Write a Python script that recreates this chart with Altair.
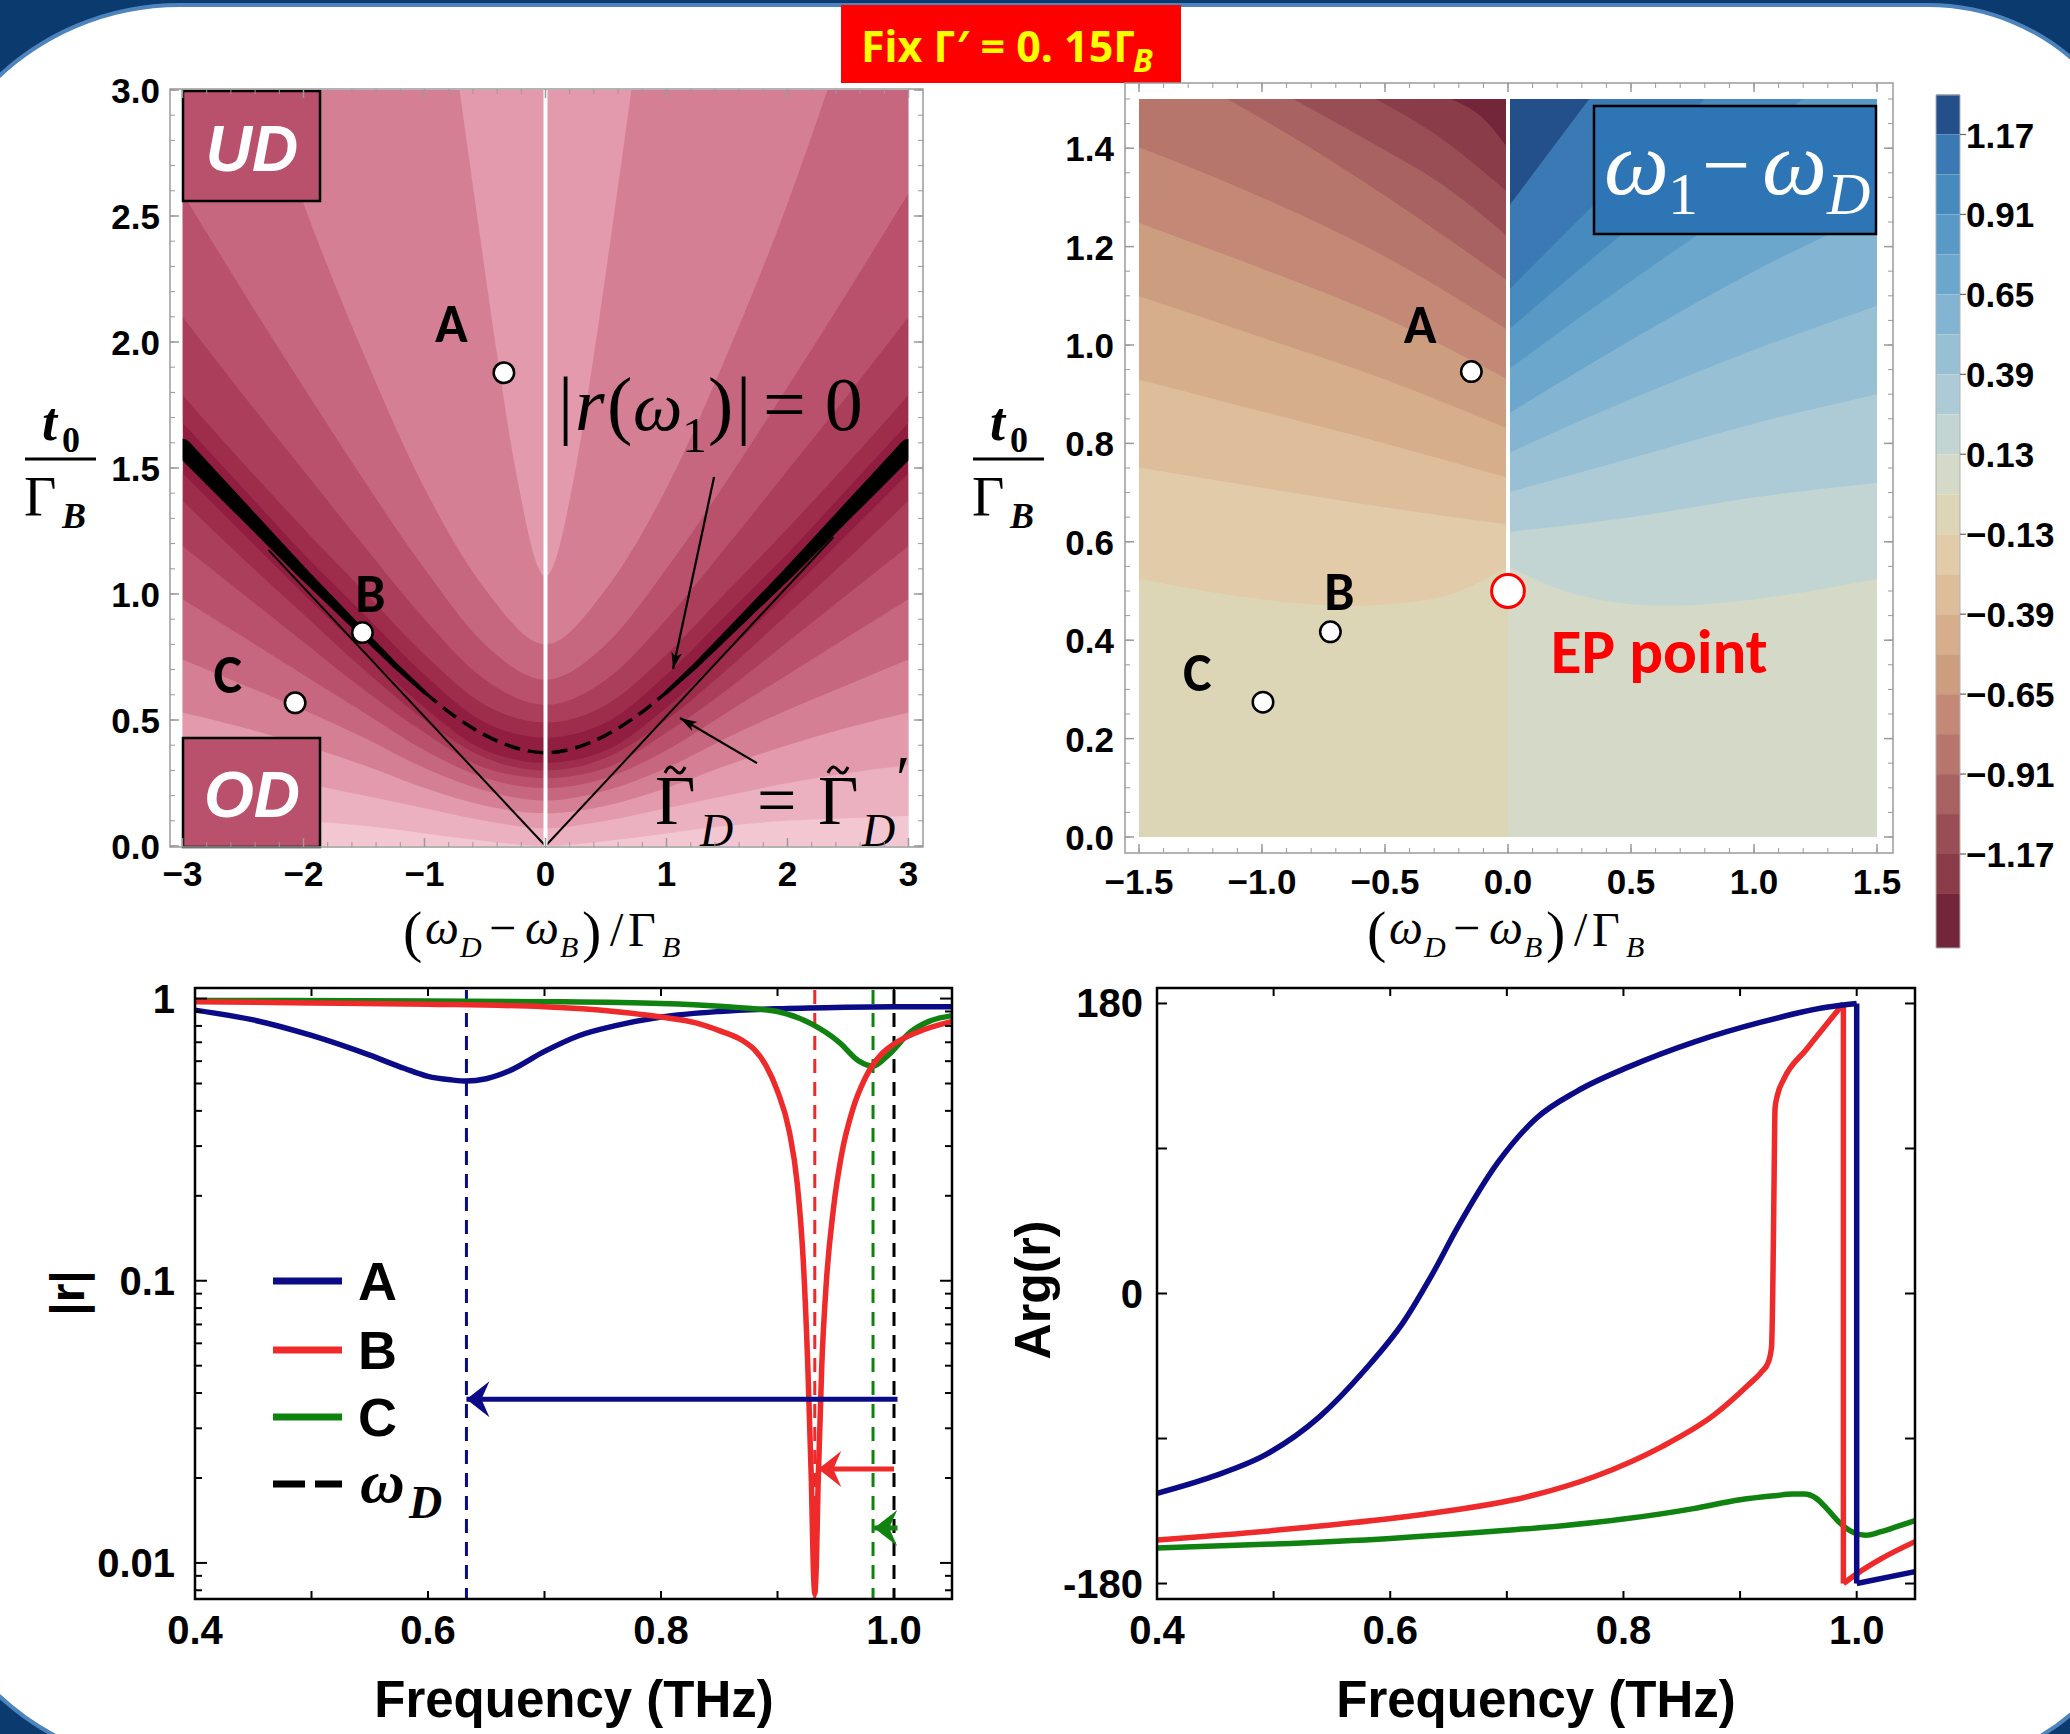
import math
import altair as alt
import pandas as pd

W, H = 2070, 1734

# ====================== DATA ======================
POINT_NAMES = ["A", "B", "C"]

# ---- top-left map |r(w1)| : x = (wD - wB)/GB , y = t0/GB ----
TL_XS = [-3, -2.5, -2, -1.5, -1, -0.5, 0, 0.5, 1, 1.5, 2, 2.5, 3]
TL_UPPER = [  # contour boundaries above the |r|=0 line (levels 1..4)
    [1.68, 1.42, 1.16, 0.92, 0.68, 0.49, 0.43, 0.49, 0.68, 0.92, 1.16, 1.42, 1.68],
    [1.79, 1.52, 1.26, 1.01, 0.76, 0.56, 0.49, 0.56, 0.76, 1.01, 1.26, 1.52, 1.79],
    [2.10, 1.79, 1.49, 1.19, 0.90, 0.66, 0.56, 0.66, 0.90, 1.19, 1.49, 1.79, 2.10],
    [2.59, 2.20, 1.82, 1.45, 1.10, 0.80, 0.66, 0.80, 1.10, 1.45, 1.82, 2.20, 2.59],
]
TL_U5_X = [-2.33, -2, -1.5, -1, -0.5, 0, 0.5, 1, 1.5, 2, 2.33]
TL_U5_Y = [3.0, 2.55, 1.95, 1.42, 1.02, 0.80, 1.02, 1.42, 1.95, 2.55, 3.0]
TL_U6_X = [-0.71, -0.55, -0.4, -0.25, 0, 0.25, 0.4, 0.55, 0.71]
TL_U6_Y = [3.0, 2.45, 1.95, 1.5, 1.07, 1.5, 1.95, 2.45, 3.0]
TL_LOWER = [  # contour boundaries below the |r|=0 line (levels 1..8)
    [1.48, 1.24, 1.00, 0.77, 0.55, 0.38, 0.33, 0.38, 0.55, 0.77, 1.00, 1.24, 1.48],
    [1.37, 1.14, 0.92, 0.70, 0.50, 0.35, 0.30, 0.35, 0.50, 0.70, 0.92, 1.14, 1.37],
    [1.19, 1.00, 0.81, 0.62, 0.45, 0.31, 0.27, 0.31, 0.45, 0.62, 0.81, 1.00, 1.19],
    [0.98, 0.83, 0.68, 0.53, 0.38, 0.27, 0.23, 0.27, 0.38, 0.53, 0.68, 0.83, 0.98],
    [0.74, 0.64, 0.54, 0.43, 0.31, 0.22, 0.18, 0.22, 0.31, 0.43, 0.54, 0.64, 0.74],
    [0.53, 0.47, 0.40, 0.32, 0.23, 0.16, 0.13, 0.16, 0.23, 0.32, 0.40, 0.47, 0.53],
    [0.32, 0.29, 0.25, 0.20, 0.15, 0.10, 0.07, 0.10, 0.15, 0.20, 0.25, 0.29, 0.32],
    [0.12, 0.11, 0.10, 0.08, 0.05, 0.02, 0.00, 0.02, 0.05, 0.08, 0.10, 0.11, 0.12],
]
TL_ZERO_X = [-3, -2.75, -2.5, -2.25, -2, -1.75, -1.5, -1.25, -1, -0.75, -0.5, -0.25, 0,
             0.25, 0.5, 0.75, 1, 1.25, 1.5, 1.75, 2, 2.25, 2.5, 2.75, 3]
TL_ZERO_Y = [1.58, 1.455, 1.33, 1.205, 1.08, 0.96, 0.84, 0.72, 0.61, 0.515, 0.44, 0.39, 0.37,
             0.39, 0.44, 0.515, 0.61, 0.72, 0.84, 0.96, 1.08, 1.205, 1.33, 1.455, 1.58]
TL_GAMMA_X = [-2.29, 0, 2.38]
TL_GAMMA_Y = [1.175, 0, 1.226]
TL_PT_X = [-0.344, -1.513, -2.069]
TL_PT_Y = [1.878, 0.847, 0.568]
TL_TICK_X = [-3, -2, -1, 0, 1, 2, 3]
TL_TICK_X_LAB = ["−3", "−2", "−1", "0", "1", "2", "3"]
TL_TICK_Y = [0, 0.5, 1, 1.5, 2, 2.5, 3]
TL_TICK_Y_LAB = ["0.0", "0.5", "1.0", "1.5", "2.0", "2.5", "3.0"]

# ---- top-right map w1 - wD ----
TR_LEFT_X = [[-1.5, -1.1, -0.65, -0.3, 0], [-1.5, -1, -0.5, 0], [-1.5, -1, -0.5, 0],
             [-1.5, -1, -0.5, 0], [-1.5, -1, -0.5, 0], [-1.5, -1, -0.5, 0],
             [-1.141, -0.8, -0.4, 0], [-0.875, -0.55, -0.25, 0], [-0.538, -0.3, 0],
             [-0.231, -0.1, 0]]
TR_LEFT_Y = [[0.525, 0.49, 0.47, 0.485, 0.55], [0.751, 0.71, 0.67, 0.635], [0.93, 0.865, 0.80, 0.73],
             [1.099, 1.015, 0.93, 0.83], [1.248, 1.155, 1.055, 0.93], [1.402, 1.30, 1.18, 1.03],
             [1.5, 1.40, 1.27, 1.13], [1.5, 1.41, 1.32, 1.22], [1.5, 1.43, 1.31],
             [1.5, 1.46, 1.40]]
TR_RIGHT_X = [[0, 0.3, 0.65, 1.1, 1.5], [0, 0.5, 1, 1.5], [0, 0.5, 1, 1.5], [0, 0.5, 1, 1.5],
              [0, 0.5, 1, 1.5], [0, 0.5, 1, 1.5], [0, 0.5, 1, 1.2], [0, 0.4, 0.8], [0, 0.15, 0.33]]
TR_RIGHT_Y = [[0.55, 0.49, 0.47, 0.49, 0.525], [0.62, 0.65, 0.69, 0.72], [0.70, 0.77, 0.84, 0.90],
              [0.78, 0.89, 0.99, 1.08], [0.86, 1.01, 1.15, 1.27], [0.95, 1.13, 1.30, 1.45],
              [1.03, 1.24, 1.43, 1.5], [1.11, 1.31, 1.5], [1.28, 1.38, 1.5]]
TR_PT_X = [-0.149, -0.722, -0.996]
TR_PT_Y = [0.946, 0.417, 0.274]
EP_X = [0.0]
EP_Y = [0.5]
TR_TICK_X = [-1.5, -1, -0.5, 0, 0.5, 1, 1.5]
TR_TICK_X_LAB = ["−1.5", "−1.0", "−0.5", "0.0", "0.5", "1.0", "1.5"]
TR_TICK_Y = [0, 0.2, 0.4, 0.6, 0.8, 1.0, 1.2, 1.4]
TR_TICK_Y_LAB = ["0.0", "0.2", "0.4", "0.6", "0.8", "1.0", "1.2", "1.4"]
CB_EDGES = [1.30, 1.17, 1.04, 0.91, 0.78, 0.65, 0.52, 0.39, 0.26, 0.13, 0.0, -0.13, -0.26,
            -0.39, -0.52, -0.65, -0.78, -0.91, -1.04, -1.17, -1.30, -1.476]
CB_TICKS = [1.17, 0.91, 0.65, 0.39, 0.13, -0.13, -0.39, -0.65, -0.91, -1.17]
CB_LABELS = ["1.17", "0.91", "0.65", "0.39", "0.13", "−0.13", "−0.39", "−0.65", "−0.91", "−1.17"]

# ---- bottom-left |r| (log) ----
FREQ_A = [0.40, 0.45, 0.50, 0.55, 0.58, 0.60, 0.62, 0.633, 0.65, 0.67, 0.70, 0.73, 0.76, 0.80,
          0.85, 0.90, 0.95, 1.00, 1.05]
ABS_A = [0.91, 0.84, 0.74, 0.63, 0.565, 0.53, 0.515, 0.51, 0.52, 0.555, 0.65, 0.74, 0.80, 0.86,
         0.90, 0.92, 0.93, 0.935, 0.935]
FREQ_B = [0.40, 0.50, 0.60, 0.70, 0.76, 0.80, 0.83, 0.85, 0.87, 0.88, 0.89, 0.90, 0.91, 0.917,
          0.922, 0.926, 0.929, 0.931, 0.932, 0.933, 0.935, 0.938, 0.942, 0.948, 0.955, 0.965,
          0.975, 0.99, 1.00, 1.02, 1.05]
ABS_B = [0.975, 0.965, 0.955, 0.935, 0.90, 0.86, 0.82, 0.77, 0.71, 0.66, 0.58, 0.47, 0.34, 0.22,
         0.12, 0.05, 0.02, 0.009, 0.0078, 0.009, 0.02, 0.05, 0.10, 0.18, 0.28, 0.41,
         0.52, 0.64, 0.69, 0.76, 0.83]
FREQ_C = [0.40, 0.60, 0.70, 0.80, 0.85, 0.88, 0.90, 0.93, 0.953, 0.97, 0.982, 0.995, 1.014,
          1.03, 1.05]
ABS_C = [0.985, 0.98, 0.975, 0.96, 0.94, 0.92, 0.90, 0.81, 0.70, 0.60, 0.576, 0.63, 0.76,
         0.83, 0.87]
WD_LINES = [0.633, 0.932, 0.982, 1.0]
ARROW_TAIL = [1.003, 1.0, 1.003]
ARROW_TIP = [0.633, 0.935, 0.983]
ARROW_LEVEL = [0.038, 0.0215, 0.0133]
BL_TICK_Y = [1, 0.1, 0.01]
BL_TICK_Y_LAB = ["1", "0.1", "0.01"]
F_TICKS = [0.4, 0.6, 0.8, 1.0]
F_TICK_LAB = ["0.4", "0.6", "0.8", "1.0"]

# ---- bottom-right Arg(r) ----
PFREQ_A1 = [0.40, 0.448, 0.494, 0.539, 0.578, 0.612, 0.635, 0.658, 0.692, 0.725, 0.760, 0.805,
            0.861, 0.918, 0.974, 1.0]
ARG_A1 = [-124, -113.5, -99.7, -76.7, -47.6, -17, 10.6, 41.3, 81, 108.6, 125.5, 140.8, 156.2,
          168.4, 177.6, 180]
PFREQ_A2 = [1.0, 1.05]
ARG_A2 = [-180, -172.6]
PFREQ_B1 = [0.40, 0.522, 0.635, 0.720, 0.776, 0.833, 0.878, 0.907, 0.918, 0.924, 0.927, 0.928,
            0.929, 0.930, 0.932, 0.9375, 0.957, 0.974, 0.9886]
ARG_B1 = [-153, -145.6, -136.4, -125.7, -113.4, -95, -75.2, -56.8, -49, -43, -33, 0, 60, 115,
          123, 133, 151.6, 167, 180]
PFREQ_B2 = [0.9886, 1.0, 1.02, 1.05]
ARG_B2 = [-180, -174, -165, -154]
PFREQ_C = [0.40, 0.50, 0.60, 0.70, 0.75, 0.80, 0.86, 0.90, 0.93, 0.945, 0.955, 0.965, 0.975,
           0.985, 0.995, 1.008, 1.02, 1.035, 1.05]
ARG_C = [-158, -155.5, -152, -147, -144, -140, -133.5, -128, -125.5, -124.5, -124.5, -127, -134,
         -142, -147.5, -150, -148, -144.5, -141]
BR_TICK_Y = [180, 0, -180]
BR_TICK_Y_LAB = ["180", "0", "-180"]

# ====================== STYLE / LAYOUT ======================
SANS = "Liberation Sans, Arial, Helvetica, sans-serif"
SERIF = "Liberation Serif, Times New Roman, serif"
CALI = "Carlito, Lato, Open Sans, sans-serif"
NOTO = "Noto Sans, DejaVu Sans, sans-serif"
NAVY, RED, GREEN = "#0b0b88", "#ee2a2a", "#108210"
TL_COLORS = ["#911d40", "#9e2c4b", "#ab3e5b", "#b9506c", "#c7667f", "#d57f95", "#e39aad",
             "#ebb1c0", "#f2c7d2"]
TR_RED = ["#dcd5b6", "#e2cba8", "#ddbd9a", "#d6ae8c", "#cd9d80", "#c38976", "#b6766c",
          "#a86261", "#994e55", "#8a3c48", "#73263a"]
TR_BLUE = ["#d4d9c8", "#c2d5d2", "#adcbd6", "#98c0d5", "#83b4d1", "#6ba6cc", "#5899c5",
           "#478abe", "#3a79b3", "#234f8b"]
FRAME_GREY = "#9a9a9a"
TILDE = "M-1,0.3C-0.65,-0.45,-0.35,-0.45,0,0C0.35,0.45,0.65,0.45,1,-0.3"

layers = []
ONE = pd.DataFrame({"k": [0]})


def add(c):
    layers.append(c)


def lin(dom, rng):
    return alt.Scale(domain=dom, range=rng, nice=False, zero=False)


def ex(s, f="x"):
    return alt.X(f"{f}:Q", scale=s, axis=None)


def ey(s, f="y"):
    return alt.Y(f"{f}:Q", scale=s, axis=None)


def prect(x1, x2, y1, y2, **mk):
    add(alt.Chart(ONE).mark_rect(**mk).encode(
        x=alt.value(x1), x2=alt.value(x2), y=alt.value(y1), y2=alt.value(y2)))


def pline(x1, y1, x2, y2, **mk):
    add(alt.Chart(ONE).mark_rule(**mk).encode(
        x=alt.value(x1), x2=alt.value(x2), y=alt.value(y1), y2=alt.value(y2)))


def psymbol(x, y, shape, size, **mk):
    add(alt.Chart(ONE).mark_point(shape=shape, size=size, **mk).encode(
        x=alt.value(x), y=alt.value(y)))


def ptext(x, y, s, size, font=SANS, color="black", weight="normal", style="normal",
          align="left", baseline="alphabetic", angle=None):
    kw = dict(text=s, fontSize=size, font=font, color=color, fontWeight=weight,
              fontStyle=style, align=align, baseline=baseline)
    if angle is not None:
        kw["angle"] = angle
    add(alt.Chart(ONE).mark_text(**kw).encode(x=alt.value(x), y=alt.value(y)))


def dtext(sx, sy, xs, ys, texts, size, font=CALI, color="black", weight="bold",
          align="center", dy=0):
    df = pd.DataFrame({"x": xs, "y": ys, "t": texts})
    add(alt.Chart(df).mark_text(fontSize=size, font=font, color=color, fontWeight=weight,
                                align=align, baseline="alphabetic", dy=dy).encode(
        x=ex(sx), y=ey(sy), text="t:N"))


def area(sx, sy, xs, ys, base, color):
    df = pd.DataFrame({"x": xs, "y": ys, "b": [base] * len(xs)})
    add(alt.Chart(df).mark_area(color=color, interpolate="monotone").encode(
        x=ex(sx), y=ey(sy), y2="b:Q"))


def drect(sx, sy, x1, x2, y1, y2, **mk):
    df = pd.DataFrame({"x": [x1], "x2": [x2], "y": [y1], "y2": [y2]})
    add(alt.Chart(df).mark_rect(**mk).encode(x=ex(sx), x2="x2:Q", y=ey(sy), y2="y2:Q"))


def curve(sx, sy, xs, ys, color, width, interp="monotone", dash=None):
    df = pd.DataFrame({"x": xs, "y": ys, "i": list(range(len(xs)))})
    kw = dict(color=color, strokeWidth=width, interpolate=interp)
    if dash:
        kw["strokeDash"] = dash
    add(alt.Chart(df).mark_line(**kw).encode(x=ex(sx), y=ey(sy), order="i:Q"))


def dots(sx, sy, xs, ys, size, stroke, sw=2.5):
    df = pd.DataFrame({"x": xs, "y": ys})
    add(alt.Chart(df).mark_circle(color="white", opacity=1, stroke=stroke, strokeWidth=sw,
                                  size=size).encode(x=ex(sx), y=ey(sy)))


def hticks(sx, vals, y0, length, color, sw=1.5):
    df = pd.DataFrame({"v": vals})
    add(alt.Chart(df).mark_rule(color=color, strokeWidth=sw).encode(
        x=ex(sx, "v"), y=alt.value(y0), y2=alt.value(y0 + length)))


def vticks(sy, vals, x0, length, color, sw=1.5):
    df = pd.DataFrame({"v": vals})
    add(alt.Chart(df).mark_rule(color=color, strokeWidth=sw).encode(
        y=ey(sy, "v"), x=alt.value(x0), x2=alt.value(x0 + length)))


def xlabels(sx, vals, texts, y, size, font=SANS):
    df = pd.DataFrame({"v": vals, "t": texts})
    add(alt.Chart(df).mark_text(fontSize=size, font=font, fontWeight="bold", align="center",
                                baseline="alphabetic", color="black").encode(
        x=ex(sx, "v"), y=alt.value(y), text="t:N"))


def ylabels(sy, vals, texts, x, size, align="right", font=SANS):
    df = pd.DataFrame({"v": vals, "t": texts})
    add(alt.Chart(df).mark_text(fontSize=size, font=font, fontWeight="bold", align=align,
                                baseline="alphabetic", dy=round(0.36 * size),
                                color="black").encode(
        y=ey(sy, "v"), x=alt.value(x), text="t:N"))


HEAD_BIG = "M0,0L-1.8,2.3L0,1.5L1.8,2.3Z"
HEAD_SMALL = "M0,0L-0.8,2.6L0,2.0L0.8,2.6Z"


def arrow(sx, sy, kx, ky, tail, tip, color, width, path, size):
    df = pd.DataFrame({"x": [tail[0]], "y": [tail[1]], "x2": [tip[0]], "y2": [tip[1]]})
    add(alt.Chart(df).mark_rule(color=color, strokeWidth=width).encode(
        x=ex(sx), y=ey(sy), x2="x2:Q", y2="y2:Q"))
    dxp = (tip[0] - tail[0]) * kx
    dyp = -(tip[1] - tail[1]) * ky
    ang = math.degrees(math.atan2(dxp, -dyp)) % 360
    hd = pd.DataFrame({"x": [tip[0]], "y": [tip[1]]})
    add(alt.Chart(hd).mark_point(shape=path, filled=True, color=color, size=size, angle=ang,
                                 opacity=1, strokeWidth=0).encode(x=ex(sx), y=ey(sy)))


# scales (pixel ranges of each panel on the 2070x1734 page)
TL_SX = lin([-3, 3], [182.5, 908.5])
TL_SY = lin([0, 3], [846, 90])
TR_SX = lin([-1.5, 1.5], [1139, 1877])
TR_SY = lin([0, 1.5], [837, 99])
CB_SY = lin([-1.17, 1.17], [854, 134.5])
BL_SX = lin([0.4, 1.05], [195, 952.25])
BL_SY = alt.Scale(type="log", domain=[0.00745, 1.09], range=[1599, 988], nice=False)
BR_SX = lin([0.4, 1.05], [1157, 1915])
BR_SY = lin([-189.6, 189.6], [1599, 988])

# ---------------- page background ----------------
prect(0, W, 0, H, color="#0b3b6e")
prect(-86, 2148, 5, 1767, color="white", stroke="#4d84bd", strokeWidth=4,
      cornerRadiusTopLeft=266, cornerRadiusTopRight=220,
      cornerRadiusBottomLeft=266, cornerRadiusBottomRight=220)

# title box
prect(841, 1181, 5, 83, color="#ff0000")
ptext(861, 62, "Fix Γ′ = 0. 15Γ", 43, font=NOTO, color="#ffff00", weight="bold")
ptext(1133, 72, "B", 32, font=NOTO, color="#ffff00", weight="bold", style="italic")

# ---------------- top-left panel ----------------
drect(TL_SX, TL_SY, TL_XS[0], TL_XS[-1], 0, 3, color=TL_COLORS[0])
for k, ys in enumerate(TL_UPPER):
    area(TL_SX, TL_SY, TL_XS, ys, 3, TL_COLORS[k + 1])
area(TL_SX, TL_SY, TL_U5_X, TL_U5_Y, 3, TL_COLORS[5])
area(TL_SX, TL_SY, TL_U6_X, TL_U6_Y, 3, TL_COLORS[6])
for k, ys in enumerate(TL_LOWER):
    area(TL_SX, TL_SY, TL_XS, ys, 0, TL_COLORS[k + 1])

curve(TL_SX, TL_SY, TL_GAMMA_X, TL_GAMMA_Y, "black", 2, interp="linear")

zdf = pd.DataFrame({"x": TL_ZERO_X, "y": TL_ZERO_Y})
zdf["w"] = 4 + 7.0 * (zdf["x"].abs() - 1)
zdf["side"] = ["L" if v < 0 else "R" for v in zdf["x"]]
outer = zdf[zdf["x"].abs() >= 1]
add(alt.Chart(outer).mark_trail(color="black").encode(
    x=ex(TL_SX), y=ey(TL_SY), size=alt.Size("w:Q", scale=None, legend=None), detail="side:N"))
inner = zdf[zdf["x"].abs() <= 1]
curve(TL_SX, TL_SY, list(inner["x"]), list(inner["y"]), "black", 3.5, dash=[16, 8])

curve(TL_SX, TL_SY, [0, 0], [0, 3], "white", 4, interp="linear")
# white margins between the map and its frame (hide the trail end caps)
prect(170, 182.5, 89, 847, color="white")
prect(908.5, 923, 89, 847, color="white")

dots(TL_SX, TL_SY, TL_PT_X, TL_PT_Y, 420, "black")
dtext(TL_SX, TL_SY, [-0.778, -1.448, -2.625], [2.075, 1.003, 0.681], POINT_NAMES, 54, dy=19)

prect(183, 320, 91, 201, color=TL_COLORS[3], stroke="black", strokeWidth=2.5)
ptext(252, 171, "UD", 64, weight="bold", style="italic", color="white", align="center")
prect(183, 320, 738, 847, color=TL_COLORS[3], stroke="black", strokeWidth=2.5)
ptext(252, 817, "OD", 64, weight="bold", style="italic", color="white", align="center")

# |r(w1)| = 0 label
ptext(558, 430, "|", 76, font=SERIF)
ptext(575, 430, "r", 76, font=SERIF, style="italic")
ptext(607, 430, "(", 76, font=SERIF)
ptext(633, 430, "ω", 70, font=SERIF, style="italic")
ptext(682, 452, "1", 50, font=SERIF)
ptext(708, 430, ")", 76, font=SERIF)
ptext(736, 430, "|", 76, font=SERIF)
ptext(763, 430, "= 0", 76, font=SERIF)
# Gamma_D tilde label (tildes drawn as small wave symbols)
ptext(655, 824, "Γ", 70, font=SERIF)
psymbol(675, 770, TILDE, 400, filled=False, color="black", strokeWidth=3, opacity=1)
ptext(700, 846, "D", 46, font=SERIF, style="italic")
ptext(757, 824, "=", 70, font=SERIF)
ptext(818, 824, "Γ", 70, font=SERIF)
psymbol(838, 770, TILDE, 400, filled=False, color="black", strokeWidth=3, opacity=1)
ptext(862, 846, "D", 46, font=SERIF, style="italic")
ptext(896, 800, "′", 64, font=SERIF)

arrow(TL_SX, TL_SY, 121, 252, (1.393, 1.464), (1.054, 0.702), "black", 2.2, HEAD_SMALL, 169)
arrow(TL_SX, TL_SY, 121, 252, (1.748, 0.329), (1.112, 0.508), "black", 2.2, HEAD_SMALL, 169)

prect(170, 923, 89, 847, fillOpacity=0, stroke=FRAME_GREY, strokeWidth=1.5)
tl_minor_x = [round(-3 + 0.2 * i, 2) for i in range(31)]
tl_minor_y = [round(0.1 * i, 2) for i in range(31)]
hticks(TL_SX, TL_TICK_X, 847, -9, FRAME_GREY)
hticks(TL_SX, TL_TICK_X, 89, 9, FRAME_GREY)
hticks(TL_SX, tl_minor_x, 847, -5, FRAME_GREY, 1)
hticks(TL_SX, tl_minor_x, 89, 5, FRAME_GREY, 1)
vticks(TL_SY, TL_TICK_Y, 170, 9, FRAME_GREY)
vticks(TL_SY, TL_TICK_Y, 923, -9, FRAME_GREY)
vticks(TL_SY, tl_minor_y, 170, 5, FRAME_GREY, 1)
vticks(TL_SY, tl_minor_y, 923, -5, FRAME_GREY, 1)
xlabels(TL_SX, TL_TICK_X, TL_TICK_X_LAB, 886, 35)
ylabels(TL_SY, TL_TICK_Y, TL_TICK_Y_LAB, 160, 35)


def frac_title(dx):
    ptext(42 + dx, 440, "t", 54, font=SERIF, weight="bold", style="italic")
    ptext(62 + dx, 452, "0", 36, font=SERIF, weight="bold")
    pline(25 + dx, 459, 96 + dx, 459, color="black", strokeWidth=3)
    ptext(24 + dx, 516, "Γ", 56, font=SERIF)
    ptext(62 + dx, 528, "B", 36, font=SERIF, weight="bold", style="italic")


def x_title(dx):
    ptext(403 + dx, 951, "(", 58, font=SERIF)
    ptext(425 + dx, 944, "ω", 48, font=SERIF, style="italic")
    ptext(460 + dx, 957, "D", 30, font=SERIF, style="italic")
    ptext(489 + dx, 944, "−", 48, font=SERIF)
    ptext(525 + dx, 944, "ω", 48, font=SERIF, style="italic")
    ptext(560 + dx, 957, "B", 30, font=SERIF, style="italic")
    ptext(582 + dx, 951, ")", 58, font=SERIF)
    ptext(610 + dx, 946, "/", 48, font=SERIF)
    ptext(628 + dx, 946, "Γ", 48, font=SERIF)
    ptext(662 + dx, 957, "B", 30, font=SERIF, style="italic")


frac_title(0)
x_title(0)

# ---------------- top-right panel ----------------
drect(TR_SX, TR_SY, -1.5, 0, 0, 1.5, color=TR_RED[0])
drect(TR_SX, TR_SY, 0, 1.5, 0, 1.5, color=TR_BLUE[0])
for k in range(len(TR_LEFT_X)):
    area(TR_SX, TR_SY, TR_LEFT_X[k], TR_LEFT_Y[k], 1.5, TR_RED[k + 1])
for k in range(len(TR_RIGHT_X)):
    area(TR_SX, TR_SY, TR_RIGHT_X[k], TR_RIGHT_Y[k], 1.5, TR_BLUE[k + 1])
curve(TR_SX, TR_SY, [EP_X[0], EP_X[0]], [EP_Y[0], 1.5], "white", 4, interp="linear")

prect(1594, 1876, 106, 234, color="#2e75b6", stroke="black", strokeWidth=2.5)
ptext(1604, 194, "ω", 92, font=SERIF, style="italic", color="white")
ptext(1668, 214, "1", 60, font=SERIF, color="white")
ptext(1702, 194, "−", 86, font=SERIF, color="white")
ptext(1762, 194, "ω", 92, font=SERIF, style="italic", color="white")
ptext(1827, 214, "D", 60, font=SERIF, style="italic", color="white")

dots(TR_SX, TR_SY, TR_PT_X, TR_PT_Y, 420, "black")
dots(TR_SX, TR_SY, EP_X, EP_Y, 1075, "#ff0000", 3)
dtext(TR_SX, TR_SY, [-0.357, -0.685, -1.263], [1.043, 0.50, 0.336], POINT_NAMES, 54, dy=19)
dtext(TR_SX, TR_SY, [0.174], [0.334], ["EP point"], 63, color="#ff0000", align="left")

prect(1125, 1893, 83, 853, fillOpacity=0, stroke=FRAME_GREY, strokeWidth=1.5)
tr_minor_x = [round(-1.5 + 0.1 * i, 2) for i in range(31)]
tr_minor_y = [round(0.05 * i, 2) for i in range(31)]
hticks(TR_SX, TR_TICK_X, 853, -9, FRAME_GREY)
hticks(TR_SX, TR_TICK_X, 83, 9, FRAME_GREY)
hticks(TR_SX, tr_minor_x, 853, -5, FRAME_GREY, 1)
hticks(TR_SX, tr_minor_x, 83, 5, FRAME_GREY, 1)
vticks(TR_SY, TR_TICK_Y, 1125, 9, FRAME_GREY)
vticks(TR_SY, TR_TICK_Y, 1893, -9, FRAME_GREY)
vticks(TR_SY, tr_minor_y, 1125, 5, FRAME_GREY, 1)
vticks(TR_SY, tr_minor_y, 1893, -5, FRAME_GREY, 1)
xlabels(TR_SX, TR_TICK_X, TR_TICK_X_LAB, 894, 35)
ylabels(TR_SY, TR_TICK_Y, TR_TICK_Y_LAB, 1114, 35)
frac_title(948)
x_title(964)

# colour bar
cb_colors = TR_BLUE[::-1] + TR_RED
cbd = pd.DataFrame({"hi": CB_EDGES[:-1], "lo": CB_EDGES[1:], "c": cb_colors})
add(alt.Chart(cbd).mark_rect().encode(
    y=ey(CB_SY, "hi"), y2="lo:Q", x=alt.value(1936), x2=alt.value(1960),
    color=alt.Color("c:N", scale=None, legend=None)))
prect(1936, 1960, 95, 948, fillOpacity=0, stroke="#b0b0b0", strokeWidth=1)
vticks(CB_SY, CB_TICKS, 1960, 6, "#666666", 1.2)
ylabels(CB_SY, CB_TICKS, CB_LABELS, 1966, 35, align="left")

# ---------------- bottom-left panel: |r| ----------------
wdd = pd.DataFrame({"x": WD_LINES, "c": [NAVY, RED, GREEN, "black"]})
add(alt.Chart(wdd).mark_rule(strokeWidth=3, strokeDash=[14, 9]).encode(
    x=ex(BL_SX), y=alt.value(990), y2=alt.value(1598),
    color=alt.Color("c:N", scale=None, legend=None)))
curve(BL_SX, BL_SY, FREQ_A, ABS_A, NAVY, 5.5)
curve(BL_SX, BL_SY, FREQ_C, ABS_C, GREEN, 5.5)
curve(BL_SX, BL_SY, FREQ_B, ABS_B, RED, 5.5)
for tail, tip, lev, col in zip(ARROW_TAIL, ARROW_TIP, ARROW_LEVEL, [NAVY, RED, GREEN]):
    arrow(BL_SX, BL_SY, 1165, 282, (tail, lev), (tip, lev), col, 5, HEAD_BIG, 400)

# legend
for yy, col in [(1281, NAVY), (1350, RED), (1417, GREEN)]:
    pline(273, yy, 342, yy, color=col, strokeWidth=7)
pline(273, 1484, 342, 1484, color="black", strokeWidth=7, strokeDash=[32, 10])
for yy, name in [(1300, "A"), (1369, "B"), (1436, "C")]:
    ptext(358, yy, name, 54, weight="bold")
ptext(360, 1502, "ω", 62, font=SERIF, weight="bold", style="italic")
ptext(409, 1518, "D", 46, font=SERIF, weight="bold", style="italic")

prect(195, 952, 988, 1599, fillOpacity=0, stroke="black", strokeWidth=2.5)
f_all = [0.4, 0.5, 0.6, 0.7, 0.8, 0.9, 1.0]
hticks(BL_SX, f_all, 1599, -8, "black", 2)
hticks(BL_SX, f_all, 988, 8, "black", 2)
bl_minor = [m * d for d in (0.001, 0.01, 0.1) for m in range(2, 10) if 0.00745 <= m * d <= 1.09]
vticks(BL_SY, BL_TICK_Y, 195, 12, "black", 2)
vticks(BL_SY, BL_TICK_Y, 952, -12, "black", 2)
vticks(BL_SY, bl_minor, 195, 7, "black", 2)
vticks(BL_SY, bl_minor, 952, -7, "black", 2)
xlabels(BL_SX, F_TICKS, F_TICK_LAB, 1644, 40)
ylabels(BL_SY, BL_TICK_Y, BL_TICK_Y_LAB, 175, 40)
ptext(70, 1293, "|r|", 48, weight="bold", align="center", baseline="middle", angle=270)
ptext(574, 1717, "Frequency (THz)", 51, weight="bold", align="center")

# ---------------- bottom-right panel: Arg(r) ----------------
curve(BR_SX, BR_SY, PFREQ_C, ARG_C, GREEN, 5.5)
curve(BR_SX, BR_SY, PFREQ_B1, ARG_B1, RED, 5.5)
curve(BR_SX, BR_SY, [PFREQ_B1[-1], PFREQ_B2[0]], [ARG_B1[-1], ARG_B2[0]], RED, 5.5, interp="linear")
curve(BR_SX, BR_SY, PFREQ_B2, ARG_B2, RED, 5.5)
curve(BR_SX, BR_SY, PFREQ_A1, ARG_A1, NAVY, 5.5)
curve(BR_SX, BR_SY, [PFREQ_A1[-1], PFREQ_A2[0]], [ARG_A1[-1], ARG_A2[0]], NAVY, 5.5, interp="linear")
curve(BR_SX, BR_SY, PFREQ_A2, ARG_A2, NAVY, 5.5, interp="linear")

prect(1157, 1915, 988, 1599, fillOpacity=0, stroke="black", strokeWidth=2.5)
hticks(BR_SX, f_all, 1599, -8, "black", 2)
hticks(BR_SX, f_all, 988, 8, "black", 2)
vticks(BR_SY, [180, 90, 0, -90, -180], 1157, 10, "black", 2)
vticks(BR_SY, [180, 90, 0, -90, -180], 1915, -10, "black", 2)
xlabels(BR_SX, F_TICKS, F_TICK_LAB, 1644, 40)
ylabels(BR_SY, BR_TICK_Y, BR_TICK_Y_LAB, 1143, 40)
ptext(1035, 1290, "Arg(r)", 50, weight="bold", align="center", baseline="middle", angle=270)
ptext(1536, 1717, "Frequency (THz)", 51, weight="bold", align="center")

chart = alt.layer(*layers).resolve_scale(x="independent", y="independent").properties(
    width=W, height=H, padding=0, autosize=alt.AutoSizeParams(type="none")
).configure_view(stroke=None).configure(background="white")

chart.save("out.html", embed_options={"renderer": "svg", "actions": False})
